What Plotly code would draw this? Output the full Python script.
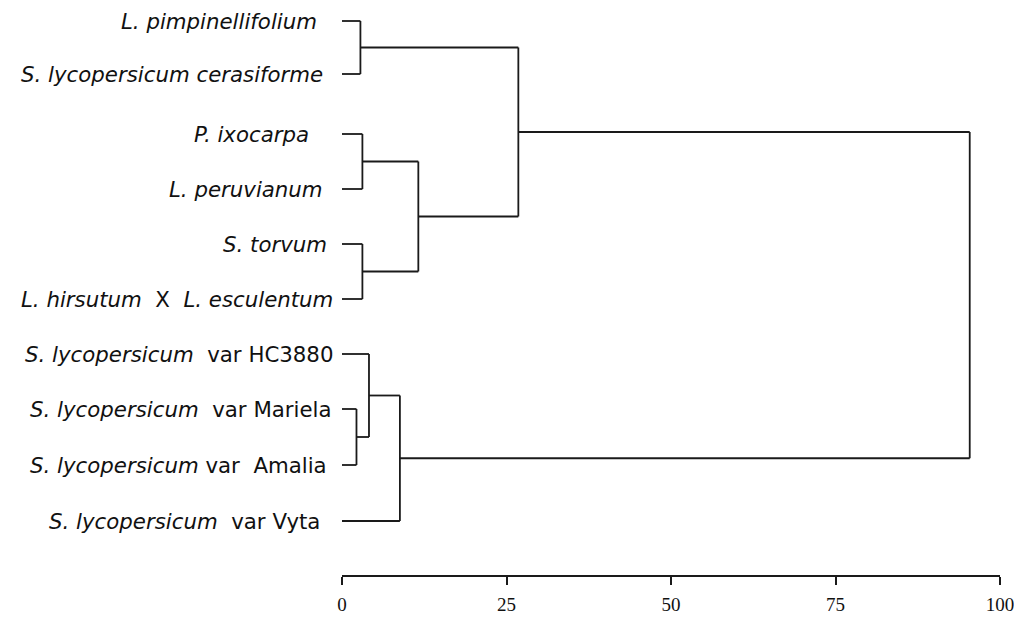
import plotly.graph_objects as go

# ---- data ----
leaf_labels = [
    "<i>L. pimpinellifolium</i>",
    "<i>S. lycopersicum cerasiforme</i>",
    "<i>P. ixocarpa</i>\u00a0\u00a0",
    "<i>L. peruvianum</i>",
    "<i>S. torvum</i>",
    "<i>L. hirsutum</i>\u00a0\u00a0X\u00a0\u00a0<i>L. esculentum</i>",
    "<i>S. lycopersicum</i>\u00a0\u00a0var HC3880",
    "<i>S. lycopersicum</i>\u00a0\u00a0var Mariela",
    "<i>S. lycopersicum</i> var\u00a0\u00a0Amalia",
    "<i>S. lycopersicum</i>\u00a0\u00a0var Vyta",
]
# merges (linkage style): node ids 0-9 are leaves, 10+ are clusters
merge_left = [0, 2, 4, 11, 10, 7, 6, 16, 14]
merge_right = [1, 3, 5, 12, 13, 8, 15, 9, 17]
merge_height = [2.8, 3.1, 3.1, 11.6, 26.8, 2.2, 4.1, 8.8, 95.4]
tick_values = [0, 25, 50, 75, 100]
tick_labels = ["0", "25", "50", "75", "100"]

# ---- layout (leaf vertical positions in plot units, label pixel shifts) ----
leaf_y = [21, 74, 134, 189, 244, 299, 354, 409, 465, 521]
label_xshift = [-6, 0, 0, 0, 4, 10, 10, 9, 4, -3]

n = len(leaf_labels)
node_x = {i: 0.0 for i in range(n)}
node_y = {i: float(leaf_y[i]) for i in range(n)}

xs, ys = [], []
for k, (a, b, h) in enumerate(zip(merge_left, merge_right, merge_height)):
    nid = n + k
    for c in (a, b):
        xs += [node_x[c], h, None]
        ys += [node_y[c], node_y[c], None]
    xs += [h, h, None]
    ys += [node_y[a], node_y[b], None]
    node_x[nid] = h
    node_y[nid] = (node_y[a] + node_y[b]) / 2

fig = go.Figure()
fig.add_trace(go.Scatter(x=xs, y=ys, mode="lines",
                         line=dict(color="#1a1a1a", width=1.8),
                         hoverinfo="skip", showlegend=False))

for lab, y, sh in zip(leaf_labels, leaf_y, label_xshift):
    fig.add_annotation(x=-0.026, y=y, xref="paper", yref="y", text=lab,
                       showarrow=False, xanchor="right", yanchor="middle",
                       xshift=sh,
                       font=dict(family="DejaVu Sans", size=21.3, color="#111111"))

fig.update_layout(
    width=1014, height=624,
    margin=dict(l=342, r=12, t=0, b=49),
    paper_bgcolor="white", plot_bgcolor="white",
    xaxis=dict(range=[0, 100], tickvals=tick_values, ticktext=tick_labels,
               showline=True, linecolor="#1a1a1a", linewidth=1.8,
               ticks="outside", ticklen=8, tickwidth=1.8, tickcolor="#1a1a1a",
               showgrid=False, zeroline=False, ticklabelstandoff=3,
               ticklabeloverflow="allow",
               tickfont=dict(family="Liberation Serif", size=19, color="#111111")),
    yaxis=dict(range=[575, 0], visible=False, showgrid=False, zeroline=False),
)

fig.write_html("out.html", config={"displayModeBar": False},
               post_script="document.body.style.margin='0px';document.body.style.overflow='hidden';")
